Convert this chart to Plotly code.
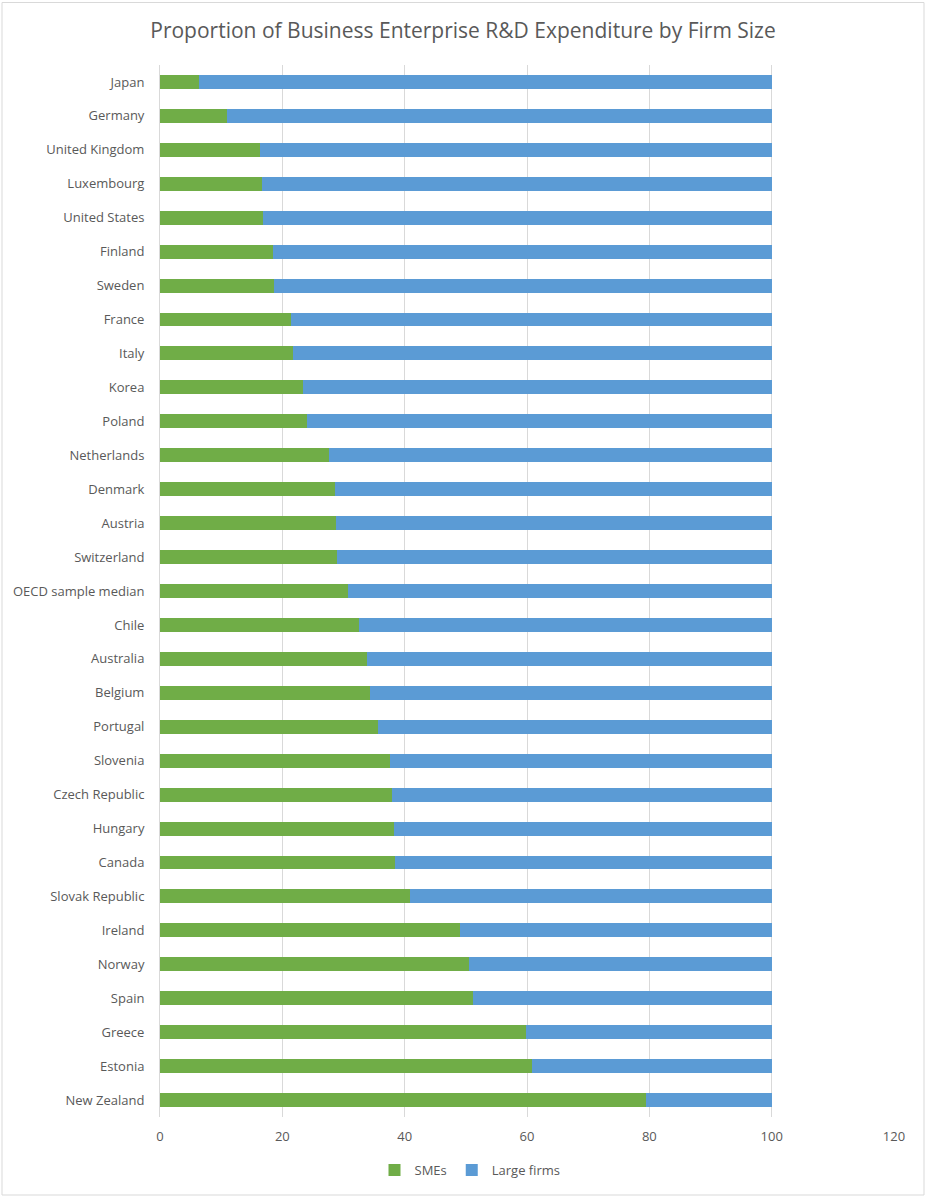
import plotly.graph_objects as go

countries = ["Japan", "Germany", "United Kingdom", "Luxembourg", "United States", "Finland",
             "Sweden", "France", "Italy", "Korea", "Poland", "Netherlands", "Denmark", "Austria",
             "Switzerland", "OECD sample median", "Chile", "Australia", "Belgium", "Portugal",
             "Slovenia", "Czech Republic", "Hungary", "Canada", "Slovak Republic", "Ireland",
             "Norway", "Spain", "Greece", "Estonia", "New Zealand"]
smes = [6.4, 11.0, 16.4, 16.6, 16.9, 18.5, 18.6, 21.4, 21.8, 23.3, 24.0, 27.7, 28.6, 28.8,
        29.0, 30.8, 32.6, 33.8, 34.3, 35.6, 37.6, 38.0, 38.2, 38.5, 40.8, 49.1, 50.5, 51.2,
        59.8, 60.8, 79.5]
large = [93.6, 89.0, 83.6, 83.4, 83.1, 81.5, 81.4, 78.6, 78.2, 76.7, 76.0, 72.3, 71.4, 71.2,
         71.0, 69.2, 67.4, 66.2, 65.7, 64.4, 62.4, 62.0, 61.8, 61.5, 59.2, 50.9, 49.5, 48.8,
         40.2, 39.2, 20.5]
x_ticks = [0, 20, 40, 60, 80, 100, 120]

FONT = "Open Sans"
GRAY = "#595959"
W, H = 928, 1200
L, R, T, B = 160, 34, 65, 83
PW, PH = W - L - R, H - T - B

fig = go.Figure()
fig.add_trace(go.Bar(y=countries, x=smes, orientation="h", name="SMEs",
                     marker=dict(color="#70AD47", line=dict(width=0))))
fig.add_trace(go.Bar(y=countries, x=large, orientation="h", name="Large firms",
                     marker=dict(color="#5B9BD5", line=dict(width=0))))

fig.update_layout(
    barmode="stack",
    bargap=0.59,
    width=W, height=H,
    margin=dict(l=L, r=R, t=T, b=B),
    paper_bgcolor="white", plot_bgcolor="white",
    font=dict(family=FONT, color=GRAY, size=13),
    title=dict(text="Proportion of Business Enterprise R&D Expenditure by Firm Size",
               x=(463 - L) / PW, xref="paper", xanchor="center", y=1 - 31 / H,
               yanchor="middle", font=dict(family=FONT, size=21, color=GRAY)),
    xaxis=dict(range=[0, 120], tickvals=x_ticks, showgrid=True, gridcolor="#D9D9D9",
               gridwidth=1, zeroline=False, showline=False, ticks="",
               ticklabelstandoff=10, tickfont=dict(size=13, color=GRAY)),
    yaxis=dict(autorange="reversed", showgrid=False, showline=True, linecolor="#D9D9D9",
               ticks="", ticklabelstandoff=12, tickfont=dict(size=13, color=GRAY)),
    legend=dict(orientation="h", x=(470 - L) / PW, xanchor="center", y=-53 / PH,
                yanchor="middle", font=dict(size=13, color=GRAY), itemwidth=30,
                traceorder="normal"),
    shapes=[dict(type="rect", xref="paper", yref="paper", x0=(2 - L) / PW, x1=(924 - L) / PW,
                 y0=-(1195 - (H - B)) / PH, y1=1 + (T - 2.5) / PH,
                 line=dict(color="#D9D9D9", width=1),
                 fillcolor="rgba(0,0,0,0)", layer="below")],
)

fig.write_html("out.html", config={"displayModeBar": False},
               post_script="document.body.style.margin='0';document.body.style.padding='0';")
